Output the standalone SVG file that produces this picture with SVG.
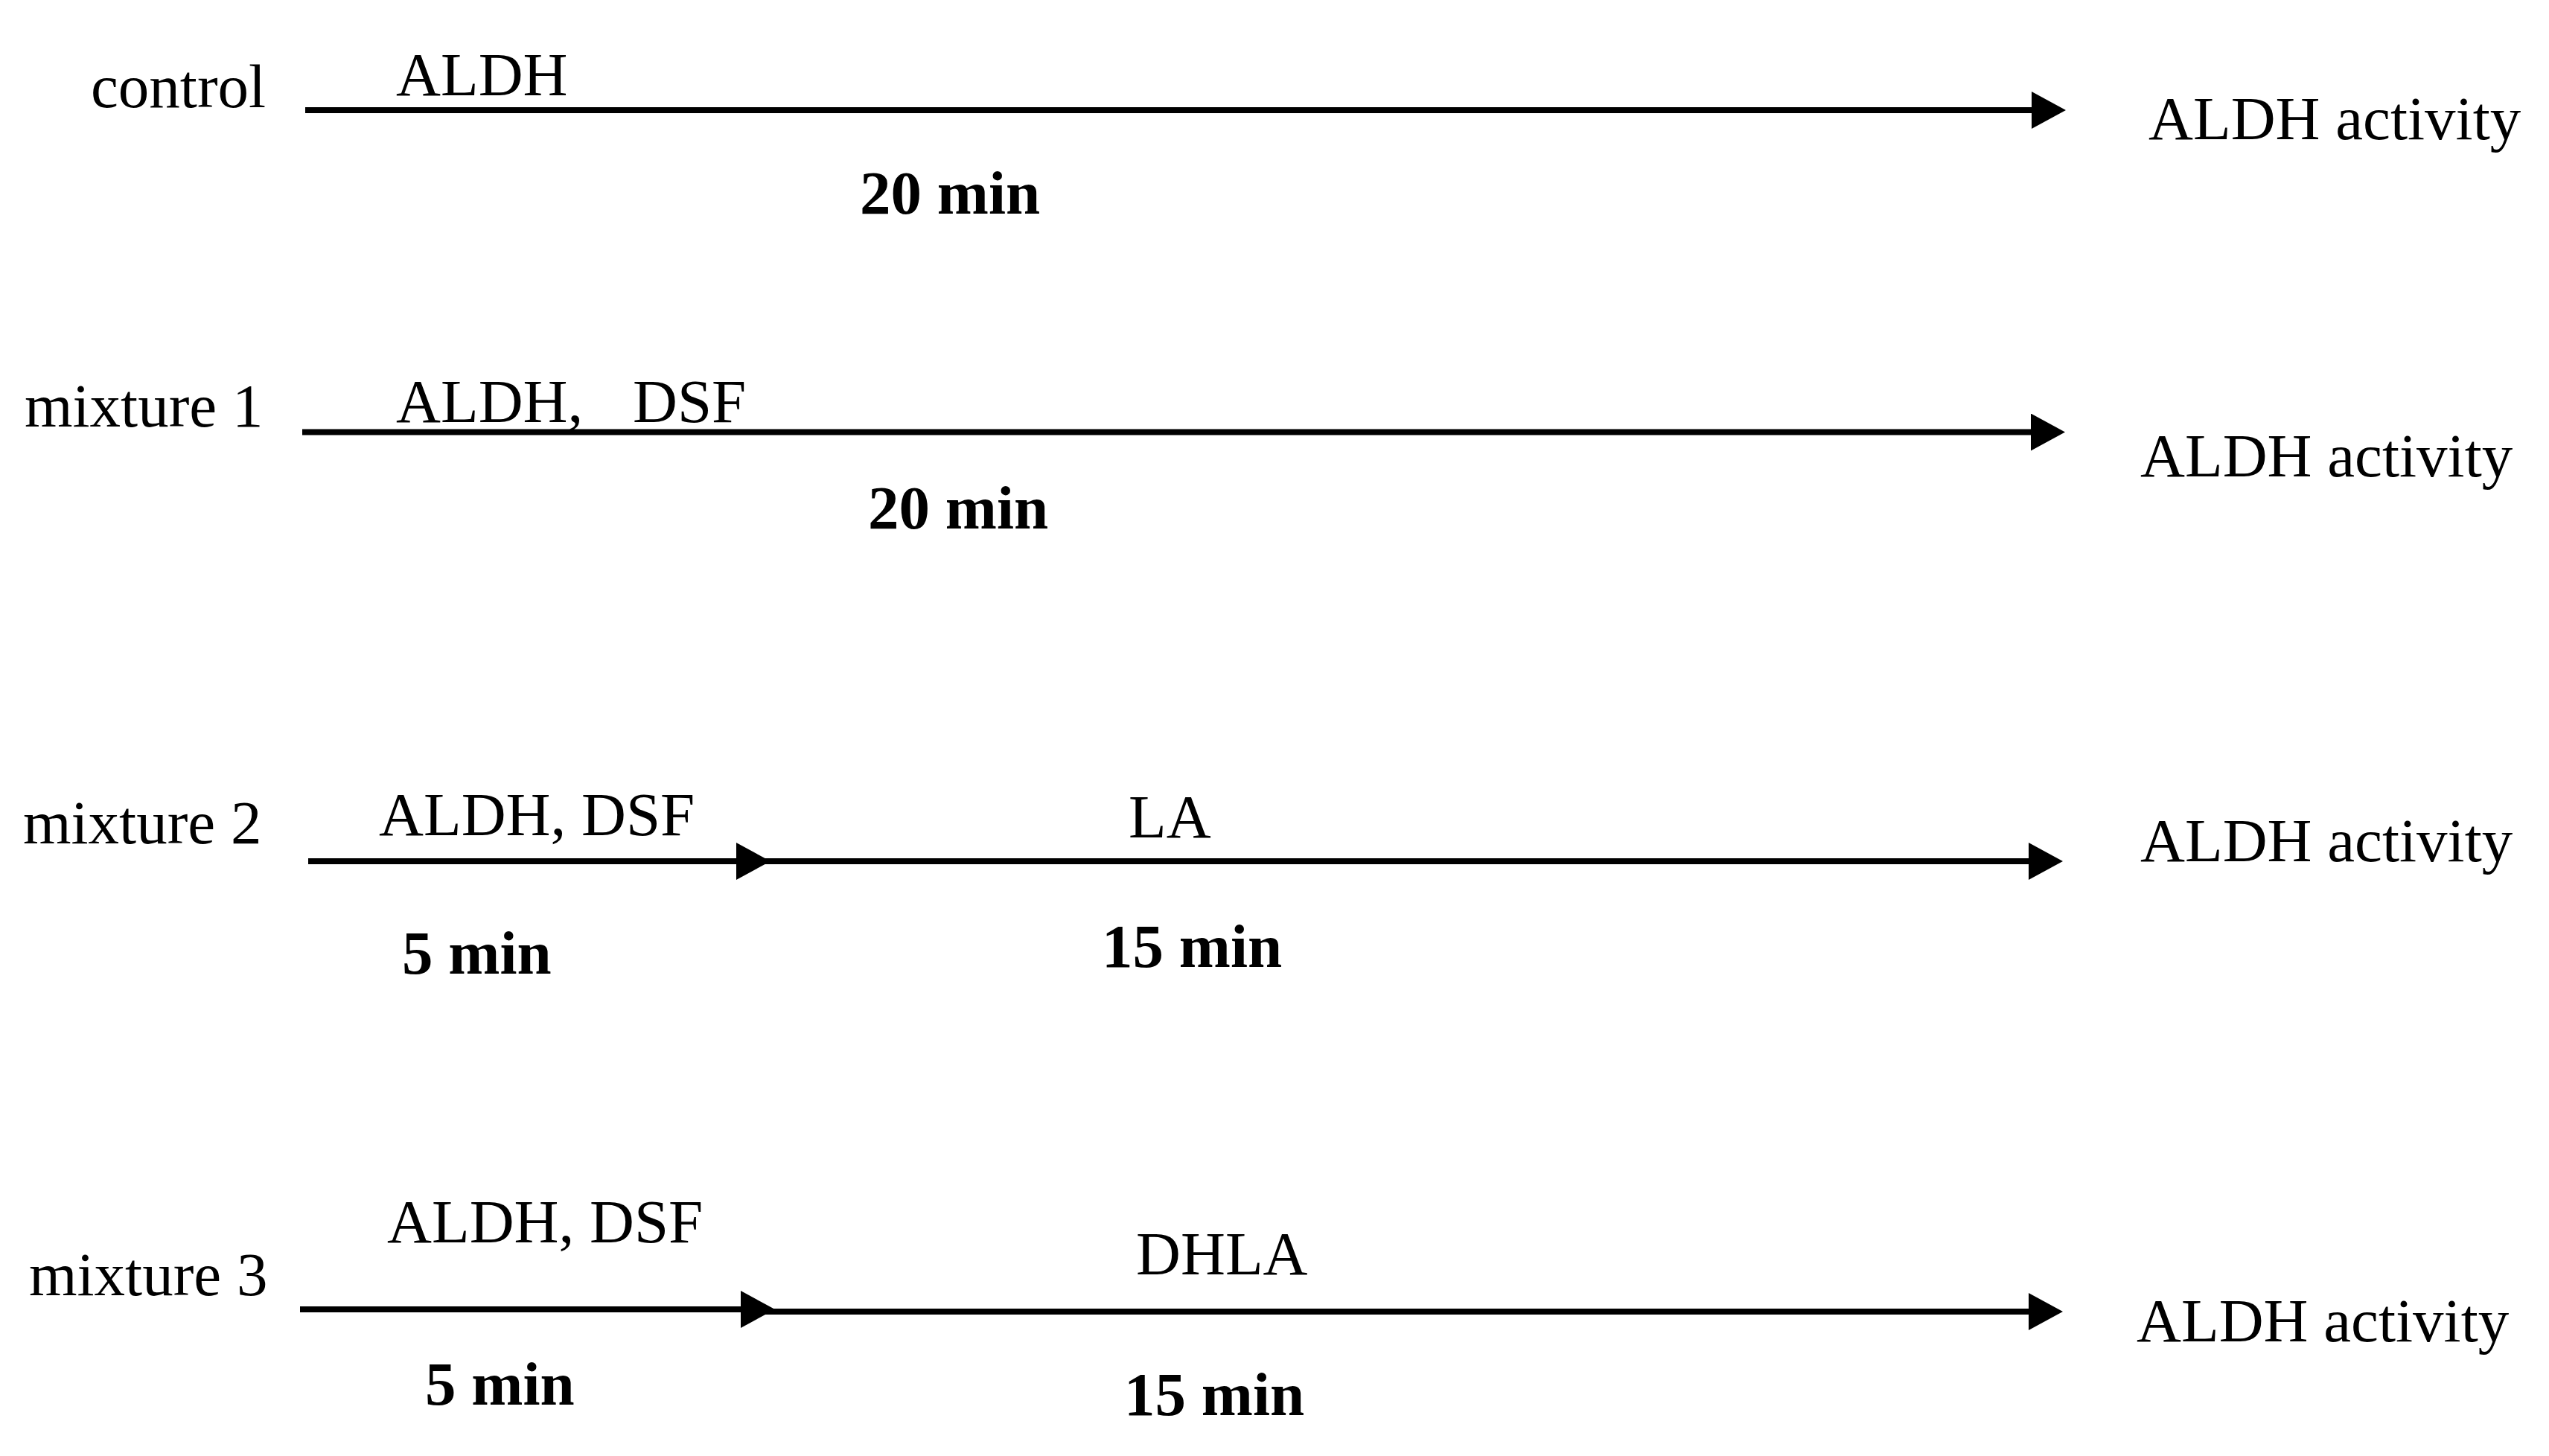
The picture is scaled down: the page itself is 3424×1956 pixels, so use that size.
<svg xmlns="http://www.w3.org/2000/svg" width="3424" height="1956" viewBox="0 0 3424 1956">
<style>
text{font-family:"Liberation Serif","Times New Roman",serif;font-size:83px;fill:#000}
.b{font-weight:bold}
.ln{stroke:#000;stroke-width:8;fill:none}
</style>
<defs>
<marker id="ah" markerUnits="userSpaceOnUse" markerWidth="48" markerHeight="50" refX="2" refY="25" orient="auto">
<path d="M0,0 L46,25 L0,50 z" fill="#000"/>
</marker>
</defs>
<rect width="3424" height="1956" fill="#fff"/>
<g id="connectors">
<line class="ln" x1="410" y1="148" x2="2731" y2="148" marker-end="url(#ah)"/>
<line class="ln" x1="406" y1="580.5" x2="2730" y2="580.5" marker-end="url(#ah)"/>
<line class="ln" x1="414" y1="1157" x2="991" y2="1157" marker-end="url(#ah)"/>
<line class="ln" x1="991" y1="1157" x2="2727" y2="1157" marker-end="url(#ah)"/>
<line class="ln" x1="403" y1="1759" x2="997" y2="1759" marker-end="url(#ah)"/>
<line class="ln" x1="997" y1="1762" x2="2727" y2="1762" marker-end="url(#ah)"/>
</g>
<g id="control">
<text x="122" y="144">control</text>
<text x="532" y="128">ALDH</text>
<text class="b" x="1155" y="287">20 min</text>
<text x="2886" y="187">ALDH activity</text>
</g>
<g id="mixture1">
<text x="33" y="573">mixture 1</text>
<text x="532" y="567">ALDH, <tspan x="850">DSF</tspan></text>
<text class="b" x="1166" y="710">20 min</text>
<text x="2875" y="640">ALDH activity</text>
</g>
<g id="mixture2">
<text x="31" y="1133">mixture 2</text>
<text x="509" y="1122">ALDH, DSF</text>
<text x="1516" y="1125">LA</text>
<text class="b" x="540" y="1308">5 min</text>
<text class="b" x="1480" y="1299">15 min</text>
<text x="2875" y="1157">ALDH activity</text>
</g>
<g id="mixture3">
<text x="39" y="1740">mixture 3</text>
<text x="520" y="1669">ALDH, DSF</text>
<text x="1526" y="1712">DHLA</text>
<text class="b" x="571" y="1887">5 min</text>
<text class="b" x="1510" y="1901">15 min</text>
<text x="2870" y="1802">ALDH activity</text>
</g>
</svg>
